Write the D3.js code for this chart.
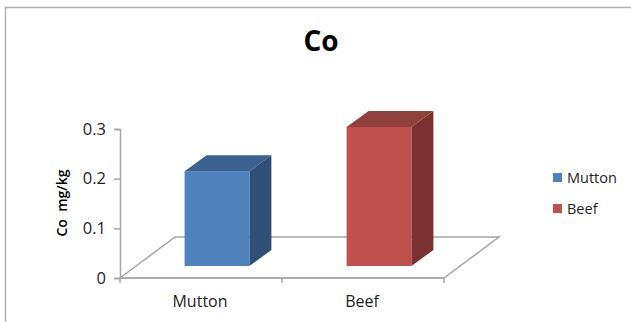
<!DOCTYPE html>
<html>
<head>
<meta charset="utf-8">
<script src="https://cdn.jsdelivr.net/npm/d3@7"></script>
<style>
html,body{margin:0;padding:0;background:#fff;}
svg{display:block;}
text{font-family:"Open Sans","Noto Sans",sans-serif;fill:#1f1f1f;white-space:pre;}
</style>
</head>
<body>
<svg id="chart" width="631" height="322"></svg>
<script>
const categories = ["Mutton", "Beef"];
const seriesValues = [0.191, 0.28];
const seriesColors = ["#4f81bd", "#c0504d"];
const topColors = ["#3b618e", "#90403d"];
const sideColors = ["#2f4f77", "#7a312f"];
const yTicks = [0, 0.1, 0.2, 0.3];

const svg = d3.select("#chart");
const x = d3.scaleBand().domain(categories).range([120, 444]).paddingInner(0).paddingOuter(0);
const y = d3.scaleLinear().domain([0, 0.3]).range([278, 129]);

// Oblique projection: floor depth, and where a bar sits within it
const floorDx = 55, floorDy = -41;
const barShiftX = 16, barShiftY = -12;
const depthX = 22, depthY = -16;
const barWidth = x.bandwidth() * 0.4;

const poly = pts => pts.map(p => p.join(",")).join(" ");
const grey = "#a6a6a6";

// Chart frame
svg.append("path").attr("d", "M5.5,322V7.5H631").attr("fill", "none").attr("stroke", "#b0b0b0").attr("stroke-width", 1.5);

// Floor
const x0 = x.range()[0], x1 = x.range()[1], y0 = y(0);
svg.append("polygon")
  .attr("points", poly([[x0, y0], [x0 + floorDx, y0 + floorDy], [x1 + floorDx, y0 + floorDy], [x1, y0]]))
  .attr("fill", "#fff").attr("stroke", grey).attr("stroke-width", 1.5);

// Value axis
const yAxis = svg.append("g").attr("transform", `translate(${x0},0)`)
  .call(d3.axisLeft(y).tickValues(yTicks).tickFormat(d => d === 0 ? "0" : d3.format(".1f")(d)).tickSize(6).tickPadding(8));
yAxis.selectAll("path,line").attr("stroke", grey).attr("stroke-width", 1.5);
yAxis.selectAll("text").style("font-size", "16.5px");

// Category axis
const xAxis = svg.append("g").attr("transform", `translate(0,${y0})`);
xAxis.append("line").attr("x1", x0).attr("x2", x1).attr("stroke", grey).attr("stroke-width", 1.5);
xAxis.selectAll("line.tick").data([x0, x(categories[1]), x1]).join("line").attr("class", "tick")
  .attr("x1", d => d).attr("x2", d => d).attr("y1", 0).attr("y2", 5)
  .attr("stroke", grey).attr("stroke-width", 1.5);
xAxis.selectAll("text").data(categories).join("text")
  .attr("x", d => x(d) + x.bandwidth() / 2 - 1)
  .attr("y", 28.5).attr("text-anchor", "middle").style("font-size", "16px").text(d => d);

// Bars
const bars = svg.selectAll("g.bar").data(categories).join("g").attr("class", "bar");
bars.each(function (c, i) {
  const g = d3.select(this);
  const l = x(c) + (x.bandwidth() - barWidth) / 2 + barShiftX;
  const r = l + barWidth;
  const b = y(0) + barShiftY;
  const t = y(seriesValues[i]) + barShiftY;
  g.append("polygon").attr("fill", sideColors[i])
    .attr("points", poly([[r, b], [r + depthX, b + depthY], [r + depthX, t + depthY], [r, t]]));
  g.append("polygon").attr("fill", topColors[i])
    .attr("points", poly([[l, t], [l + depthX, t + depthY], [r + depthX, t + depthY], [r, t]]));
  g.append("rect").attr("fill", seriesColors[i])
    .attr("x", l).attr("y", t).attr("width", barWidth).attr("height", b - t);
});

// Titles
svg.append("text").attr("x", 321).attr("y", 51).attr("text-anchor", "middle")
  .style("font-size", "28px").style("font-weight", 700).style("fill", "#000").text("Co");
svg.append("text").attr("transform", "translate(67,203) rotate(-90)").attr("text-anchor", "middle")
  .style("font-size", "14px").style("font-weight", 600).style("fill", "#000").text("Co  mg/kg");

// Legend
const legend = svg.selectAll("g.legend").data(categories).join("g").attr("class", "legend")
  .attr("transform", (d, i) => `translate(553,${173 + i * 31})`);
legend.append("rect").attr("width", 9).attr("height", 9).attr("fill", (d, i) => seriesColors[i]);
legend.append("text").attr("x", 14).attr("y", 10).style("font-size", "14.5px").text(d => d);
</script>
</body>
</html>
